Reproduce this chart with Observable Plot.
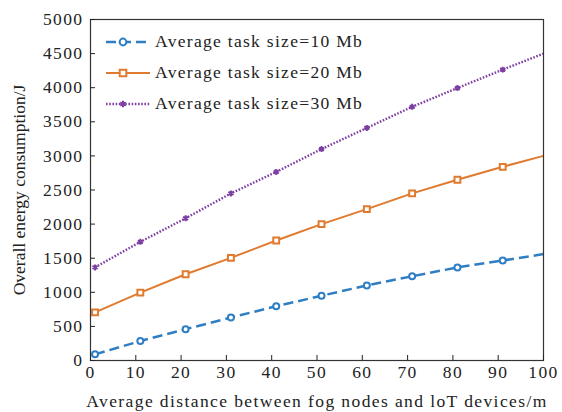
<!DOCTYPE html>
<html>
<head>
<meta charset="utf-8">
<script src="https://cdn.jsdelivr.net/npm/d3@7"></script>
<script src="https://cdn.jsdelivr.net/npm/@observablehq/plot@0.6"></script>
<style>
  html, body { margin: 0; padding: 0; background: #fff; }
  #wrap { position: relative; width: 562px; height: 412px; font-family: "Liberation Serif", "Times New Roman", serif; }
  #legend { position: absolute; left: 104px; top: 26px; font-size: 17.5px; letter-spacing: 1.3px; color: #222; }
  .row { display: flex; align-items: center; height: 31px; }
  .row svg { margin-right: 3px; }
</style>
</head>
<body>
<div id="wrap"><div id="legend"></div></div>
<script>
const distances = [1, 11, 21, 31, 41, 51, 61, 71, 81, 91, 100];
const energy10 = [90, 285, 460, 630, 795, 950, 1100, 1235, 1365, 1466, 1560];
const energy20 = [705, 995, 1265, 1505, 1760, 2000, 2220, 2450, 2650, 2840, 3000];
const energy30 = [1365, 1740, 2085, 2450, 2765, 3100, 3410, 3720, 3995, 4265, 4500];
const seriesNames = ["Average task size=10 Mb", "Average task size=20 Mb", "Average task size=30 Mb"];
const xTicks = [0, 10, 20, 30, 40, 50, 60, 70, 80, 90, 100];
const yTicks = [0, 500, 1000, 1500, 2000, 2500, 3000, 3500, 4000, 4500, 5000];

const colors = ["#2f7ec4", "#e07a2e", "#7e3fa3"];
const dashes = ["10,5", null, "1.6,1.6"];
const widths = [2.5, 2, 2.4];
const symbols = ["circle", "square", "asterisk"];
const rs = [3, 3.3, 2.8];

const allSeries = [energy10, energy20, energy30];
const data = allSeries.map((vals, i) => distances.map((d, j) => ({x: d, y: vals[j], s: seriesNames[i]})));

const marks = [];
data.forEach((rows, i) => {
  marks.push(Plot.line(rows, {x: "x", y: "y", stroke: colors[i], strokeWidth: widths[i], strokeDasharray: dashes[i], strokeLinecap: "butt", strokeLinejoin: "miter"}));
  marks.push(Plot.dot(rows.filter(r => r.x < 100), {x: "x", y: "y", symbol: symbols[i], r: rs[i], stroke: colors[i], strokeWidth: 2, fill: i === 2 ? colors[i] : "white"}));
});

const chart = Plot.plot({
  width: 562, height: 412,
  marginLeft: 90, marginRight: 19, marginTop: 19, marginBottom: 52,
  style: {fontFamily: "Liberation Serif, serif", fontSize: "17.5px", color: "#222", background: "white", letterSpacing: "1.4px"},
  x: {domain: [0, 100]},
  y: {domain: [0, 5000]},
  marks: [
    ...marks,
    Plot.frame({stroke: "#333", strokeWidth: 1.2}),
    Plot.axisX({ticks: xTicks, tickSize: -5, tickPadding: 10, label: "Average distance between fog nodes and loT devices/m", labelAnchor: "center", labelArrow: "none", labelOffset: 46, fontSize: 17.5}),
    Plot.axisY({ticks: yTicks, tickSize: -5, tickPadding: 12, label: "Overall energy consumption/J", labelAnchor: "center", labelArrow: "none", labelOffset: 78, fontSize: 17.5, tickFormat: d => String(d)})
  ]
});
d3.select(chart).selectAll('g[aria-label="y-axis label"] text, g[aria-label="y-axis label"]').attr("letter-spacing", "0px").style("letter-spacing", "0px");
const wrap = document.getElementById("wrap");
wrap.insertBefore(chart, wrap.firstChild);

const legend = document.getElementById("legend");
seriesNames.forEach((name, i) => {
  const row = document.createElement("div");
  row.className = "row";
  const ns = "http://www.w3.org/2000/svg";
  const svg = document.createElementNS(ns, "svg");
  svg.setAttribute("width", 48); svg.setAttribute("height", 14);
  const line = document.createElementNS(ns, "line");
  line.setAttribute("x1", 2); line.setAttribute("x2", 46); line.setAttribute("y1", 7); line.setAttribute("y2", 7);
  line.setAttribute("stroke", colors[i]); line.setAttribute("stroke-width", widths[i]);
  if (dashes[i]) line.setAttribute("stroke-dasharray", dashes[i]);
  svg.appendChild(line);
  const sym = d3.symbol(i === 0 ? d3.symbolCircle : i === 1 ? d3.symbolSquare : d3.symbolAsterisk, [36, 44, 28][i])();
  const p = document.createElementNS(ns, "path");
  p.setAttribute("d", sym); p.setAttribute("transform", "translate(19,7)");
  p.setAttribute("stroke", colors[i]); p.setAttribute("stroke-width", 2);
  p.setAttribute("fill", i === 2 ? colors[i] : "white");
  svg.appendChild(p);
  row.appendChild(svg);
  const t = document.createElement("span");
  t.textContent = name;
  row.appendChild(t);
  legend.appendChild(row);
});
</script>
</body>
</html>
